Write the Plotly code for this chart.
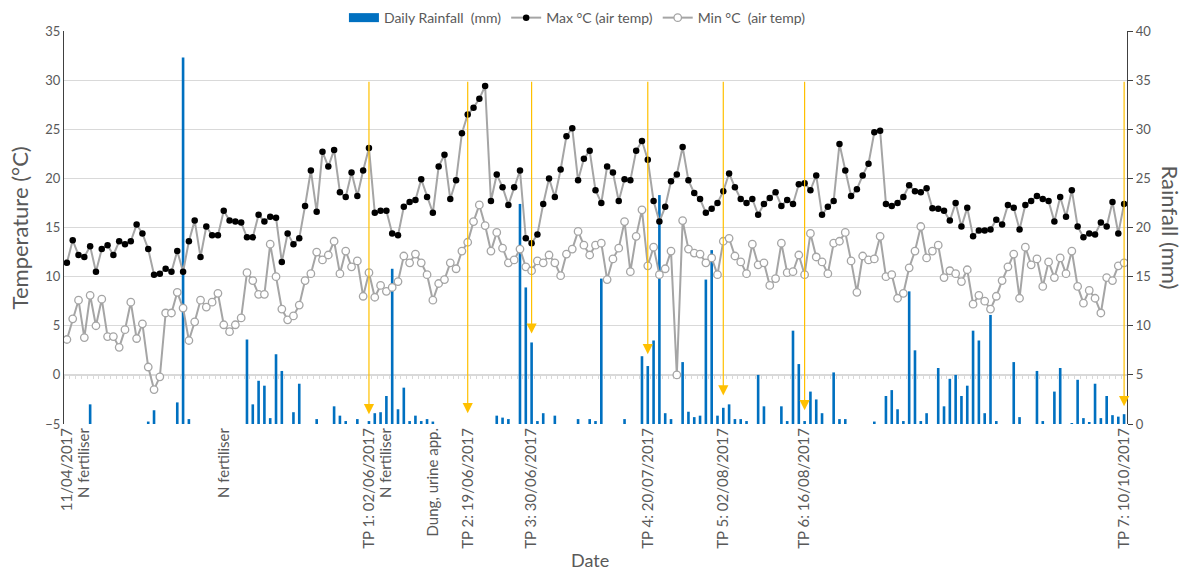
import pandas as pd
import plotly.graph_objects as go

# ---- data ---------------------------------------------------------------
dates = pd.date_range("2017-04-11", "2017-10-10", freq="D")

max_temp = [
    11.4, 13.7, 12.2, 12.0, 13.1, 10.5, 12.8, 13.2, 12.2, 13.6,
    13.3, 13.6, 15.3, 14.4, 12.8, 10.2, 10.3, 10.8, 10.5, 12.6,
    10.5, 13.6, 15.7, 12.0, 15.1, 14.2, 14.2, 16.7, 15.7, 15.6,
    15.5, 14.0, 14.0, 16.3, 15.6, 16.1, 16.0, 11.5, 14.4, 13.3,
    13.9, 17.2, 20.8, 16.6, 22.7, 21.2, 22.9, 18.6, 18.1, 20.6,
    18.2, 20.8, 23.1, 16.5, 16.7, 16.7, 14.4, 14.2, 17.1, 17.6,
    17.8, 19.9, 18.1, 16.5, 21.2, 22.4, 17.9, 19.8, 24.6, 26.5,
    27.2, 28.1, 29.4, 17.7, 20.4, 19.1, 17.3, 19.1, 20.8, 13.9,
    13.4, 14.3, 17.4, 20.0, 18.1, 20.9, 24.3, 25.1, 19.8, 22.0,
    22.8, 18.8, 17.5, 21.2, 20.6, 17.7, 19.9, 19.8, 22.8, 23.8,
    21.9, 17.7, 15.6, 17.1, 19.7, 20.4, 23.2, 19.8, 18.5, 17.9,
    16.5, 16.9, 17.5, 18.7, 20.5, 19.1, 17.9, 17.5, 17.9, 16.3,
    17.4, 18.0, 18.6, 17.2, 17.8, 17.4, 19.4, 19.5, 18.8, 20.3,
    16.3, 17.1, 17.7, 23.5, 20.8, 18.2, 18.9, 20.3, 21.5, 24.7,
    24.85, 17.4, 17.2, 17.5, 18.1, 19.3, 18.7, 18.6, 19.0, 16.95,
    16.9, 16.7, 15.7, 17.5, 15.1, 17.0, 14.1, 14.7, 14.7, 14.8,
    15.8, 15.3, 17.3, 17.0, 14.8, 17.3, 17.7, 18.2, 17.9, 17.7,
    15.6, 18.1, 16.1, 18.8, 15.1, 14.0, 14.4, 14.3, 15.5, 15.1,
    17.6, 14.4, 17.4,
]

min_temp = [
    3.6, 5.7, 7.6, 3.8, 8.1, 5.0, 7.7, 3.9, 3.9, 2.8,
    4.6, 7.4, 3.7, 5.2, 0.8, -1.5, -0.2, 6.3, 6.3, 8.4,
    6.8, 3.5, 5.4, 7.6, 6.9, 7.4, 8.3, 5.1, 4.4, 5.1,
    5.8, 10.4, 9.6, 8.2, 8.2, 13.3, 10.0, 6.7, 5.6, 6.0,
    7.1, 9.6, 10.3, 12.5, 11.7, 12.2, 13.6, 10.3, 12.6, 11.0,
    11.6, 8.0, 10.4, 7.9, 9.1, 8.5, 8.9, 9.5, 12.1, 11.4,
    12.3, 11.4, 10.2, 7.6, 9.3, 9.7, 11.4, 10.8, 12.6, 13.5,
    15.6, 17.3, 15.2, 12.6, 14.5, 12.9, 11.4, 11.7, 12.8, 11.0,
    10.6, 11.6, 11.4, 12.2, 11.4, 10.1, 12.3, 12.8, 14.6, 13.2,
    12.2, 13.2, 13.4, 9.7, 11.8, 12.9, 15.6, 10.5, 14.1, 16.8,
    11.1, 13.0, 10.2, 10.8, 12.6, 0.0, 15.7, 12.8, 12.4, 12.3,
    11.4, 11.9, 10.2, 13.6, 13.9, 12.1, 11.5, 10.3, 13.3, 11.2,
    11.4, 9.1, 9.8, 13.4, 10.4, 10.5, 12.2, 10.2, 14.4, 12.0,
    11.5, 10.3, 13.4, 13.6, 14.5, 11.6, 8.4, 12.1, 11.7, 11.8,
    14.1, 10.0, 10.2, 7.8, 8.3, 10.9, 12.6, 15.1, 11.9, 12.6,
    13.2, 9.9, 10.6, 10.3, 9.5, 10.7, 7.2, 8.1, 7.5, 6.7,
    8.0, 9.6, 11.0, 12.3, 7.8, 13.0, 11.2, 11.8, 9.0, 11.5,
    9.9, 11.9, 10.3, 12.6, 9.0, 7.3, 8.6, 7.8, 6.3, 9.9,
    9.6, 11.1, 11.4,
]

rain_mm = [
    0, 0, 0, 0, 2.0, 0, 0, 0, 0, 0,
    0, 0, 0, 0, 0.25, 1.4, 0, 0, 0, 2.2,
    37.3, 0.5, 0, 0, 0, 0, 0, 0, 0, 0,
    0, 8.6, 2.0, 4.4, 3.9, 0.6, 7.1, 5.4, 0, 1.2,
    4.1, 0, 0, 0.5, 0, 0, 1.8, 0.85, 0.3, 0,
    0.5, 0, 0.3, 1.1, 1.2, 2.85, 15.8, 1.5, 3.7, 0.3,
    0.85, 0.3, 0.5, 0.25, 0, 0, 0, 0, 0, 0,
    0, 0, 0, 0, 0.85, 0.65, 0.5, 0, 22.4, 13.9,
    8.3, 0.3, 1.1, 0, 0.85, 0, 0, 0, 0.5, 0,
    0.5, 0.3, 14.8, 0, 0, 0, 0.5, 0, 0, 6.9,
    5.9, 8.5, 23.3, 1.1, 0.5, 0, 6.3, 1.25, 0.7, 0.85,
    14.7, 17.7, 0.85, 1.65, 2.0, 0.5, 0.5, 0.3, 0, 5.0,
    1.8, 0, 0, 1.8, 0.3, 9.5, 6.1, 0.3, 3.3, 2.5,
    1.1, 0, 5.25, 0.5, 0.5, 0, 0, 0, 0, 0.25,
    0, 2.85, 3.45, 1.5, 0.3, 13.5, 7.5, 0.3, 1.1, 0,
    5.7, 1.8, 4.6, 5.0, 2.85, 3.9, 9.5, 8.5, 1.1, 11.1,
    0.3, 0, 0, 6.3, 0.7, 0, 0, 5.4, 0.3, 0,
    3.3, 5.7, 0, 0.1, 4.5, 0.6, 0.2, 4.1, 0.6, 2.85,
    0.9, 0.75, 1.0,
]

# category labels shown under the axis
label_dates = ["2017-04-11", "2017-04-14", "2017-05-08", "2017-06-02",
               "2017-06-05", "2017-06-13", "2017-06-19", "2017-06-30",
               "2017-07-20", "2017-08-02", "2017-08-16", "2017-10-10"]
label_text = ["11/04/2017", "N fertiliser", "N fertiliser", "TP 1: 02/06/2017",
              "N fertiliser", "Dung, urine app.", "TP 2: 19/06/2017",
              "TP 3: 30/06/2017", "TP 4: 20/07/2017", "TP 5: 02/08/2017",
              "TP 6: 16/08/2017", "TP 7: 10/10/2017"]

# sampling time points: arrows from 30 °C down to the marked level
tp_dates = ["2017-06-02", "2017-06-19", "2017-06-30", "2017-07-20",
            "2017-08-02", "2017-08-16", "2017-10-10"]
tp_arrow_top = [30, 30, 30, 30, 30, 30, 30]
tp_arrow_tip = [-4.0, -3.9, 4.2, 2.1, -2.1, -3.6, -3.2]

# ---- styling --------------------------------------------------------------
FONT = "Lato, 'Open Sans', sans-serif"
TXT = "#595959"
GRID = "#D9D9D9"
AXIS = "#404040"
BLUE = "#0070C0"
GREY = "#A5A5A5"
GOLD = "#FFC000"
x_range = ["2017-04-10 12:00", "2017-10-10 12:00"]

fig = go.Figure()

# rainfall bars (bottom layer, right-hand axis)
fig.add_trace(go.Bar(
    x=dates, y=rain_mm, name="Daily Rainfall  (mm)",
    marker=dict(color=BLUE, line=dict(width=0)),
    xaxis="x", yaxis="y", showlegend=False, legendgroup="rain",
))
# legend key for the rainfall bars (wide rectangle)
fig.add_trace(go.Scatter(
    x=[None], y=[None], mode="lines", name="Daily Rainfall  (mm)",
    line=dict(color=BLUE, width=9), xaxis="x", yaxis="y",
    legendgroup="rain",
))
# temperatures (overlay layer, left-hand axis)
fig.add_trace(go.Scatter(
    x=dates, y=max_temp, name="Max °C (air temp)", mode="lines+markers",
    line=dict(color=GREY, width=2),
    marker=dict(color="black", size=6.5, line=dict(width=0)),
    xaxis="x2", yaxis="y2",
))
fig.add_trace(go.Scatter(
    x=dates, y=min_temp, name="Min °C  (air temp)", mode="lines+markers",
    line=dict(color=GREY, width=2),
    marker=dict(color="white", size=7.5, line=dict(color=GREY, width=1.3)),
    xaxis="x2", yaxis="y2",
))

annotations = []
for d, top, tip in zip(tp_dates, tp_arrow_top, tp_arrow_tip):
    annotations.append(dict(
        x=d, y=tip, ax=d, ay=top, xref="x2", yref="y2", axref="x2", ayref="y2",
        text="", showarrow=True, arrowhead=2, arrowsize=1.7, arrowwidth=1.2,
        arrowcolor=GOLD, standoff=0,
    ))

annotations += [
    dict(text="Temperature (°C)", xref="paper", yref="paper", x=-0.0415, y=0.5,
         xanchor="center", yanchor="middle", textangle=-90, showarrow=False,
         font=dict(size=22, color=TXT, family=FONT)),
    dict(text="Rainfall (mm)", xref="paper", yref="paper", x=1.0405, y=0.5,
         xanchor="center", yanchor="middle", textangle=90, showarrow=False,
         font=dict(size=22, color=TXT, family=FONT)),
    dict(text="Date", xref="paper", yref="paper", x=0.495, y=-0.346,
         xanchor="center", yanchor="middle", showarrow=False,
         font=dict(size=18, color=TXT, family=FONT)),
]

fig.update_layout(
    width=1187, height=570,
    margin=dict(l=64, r=60, t=31, b=146, autoexpand=False),
    paper_bgcolor="white", plot_bgcolor="white",
    font=dict(family=FONT, color=TXT, size=12),
    bargap=0.55,
    showlegend=True,
    legend=dict(orientation="h", x=0.483, xanchor="center", y=1.033, yanchor="middle",
                font=dict(size=14, color=TXT), bgcolor="rgba(0,0,0,0)",
                itemwidth=30),
    # axis line at 0 °C with a tick between every day
    xaxis=dict(
        range=x_range, type="date", anchor="free", position=0.125,
        showline=True, linecolor=GRID, linewidth=1.5,
        ticks="outside", ticklen=3, tickcolor=GRID, tickwidth=1,
        tick0="2017-04-10 12:00", dtick=86400000, showticklabels=False,
        showgrid=False, zeroline=False, layer="below traces",
    ),
    # category labels along the bottom
    xaxis2=dict(
        range=x_range, type="date", overlaying="x", anchor="y2", side="bottom",
        tickmode="array", tickvals=label_dates, ticktext=label_text,
        tickangle=-90, ticks="", showline=False, showgrid=False, zeroline=False,
        tickfont=dict(size=15, color=TXT),
    ),
    yaxis=dict(
        range=[0, 40], dtick=5, side="right", showgrid=True, gridcolor=GRID,
        gridwidth=1, showline=True, linecolor=AXIS, linewidth=1.2,
        ticks="outside", ticklen=5, tickcolor=AXIS, zeroline=False,
        tickfont=dict(size=13, color=TXT),
    ),
    yaxis2=dict(
        range=[-5, 35], dtick=5, overlaying="y", side="left", anchor="x2",
        showgrid=False, showline=True, linecolor=AXIS, linewidth=1.2,
        ticks="", zeroline=False, tickfont=dict(size=13, color=TXT),
    ),
    annotations=annotations,
)

fig.write_html("out.html")
